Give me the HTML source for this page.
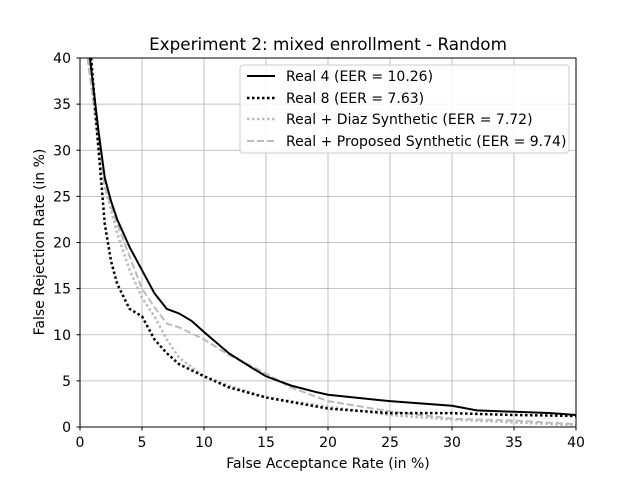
<!DOCTYPE html>
<html><head><meta charset="utf-8"><style>
body{margin:0;background:#fff;}
svg{display:block;font-family:"DejaVu Sans","Liberation Sans",sans-serif;}
</style></head><body>
<svg id="chart" width="640" height="480">
<rect width="640" height="480" fill="#fff"/>
<text x="328" y="50" font-size="16.8" text-anchor="middle">Experiment 2: mixed enrollment - Random</text>
<g id="grid"></g><g id="series"></g><g id="ticks"></g>
<rect x="80" y="58" width="496" height="369" fill="none" stroke="#000" stroke-width="1"/>
<text x="328" y="468" font-size="14" text-anchor="middle">False Acceptance Rate (in %)</text>
<text transform="translate(44,242) rotate(-90)" font-size="14" text-anchor="middle">False Rejection Rate (in %)</text>
<g>
<rect x="240" y="65" width="329" height="88" rx="3" fill="#fff" fill-opacity="0.85" stroke="#ccc"/>
<g><line x1="247" y1="76" x2="275" y2="76" stroke="#000" stroke-width="2"/><text x="286" y="81" font-size="14">Real 4 (EER = 10.26)</text></g>
<g><line x1="247" y1="98" x2="275" y2="98" stroke="#000" stroke-width="2.5" stroke-dasharray="2.5,2.5"/><text x="286" y="103" font-size="14">Real 8 (EER = 7.63)</text></g>
<g><line x1="247" y1="119" x2="275" y2="119" stroke="#bbb" stroke-width="2.5" stroke-dasharray="2.5,2.5"/><text x="286" y="124" font-size="14">Real + Diaz Synthetic (EER = 7.72)</text></g>
<g><line x1="247" y1="141" x2="275" y2="141" stroke="#bbb" stroke-width="2" stroke-dasharray="7,3"/><text x="286" y="146" font-size="14">Real + Proposed Synthetic (EER = 9.74)</text></g>
</g>
</svg>
<script>
const xTicks=[0,5,10,15,20,25,30,35,40];
const yTicks=[0,5,10,15,20,25,30,35,40];
const real4X=[0.8,1.5,2,2.5,3,4,5,6,7,8,9,10,12,14,15,17,19,20,25,30,32,38,40];
const real4Y=[40,32,27,24.5,22.5,19.5,17,14.5,12.8,12.3,11.5,10.3,8,6.3,5.5,4.5,3.8,3.5,2.8,2.3,1.8,1.5,1.3];
const real8X=[0.9,1.5,2,2.5,3,4,5,6,7,8,10,12,15,20,25,30,35,40];
const real8Y=[40,30,22,18,15.5,12.8,12,9.5,8,6.8,5.5,4.3,3.2,2,1.5,1.5,1.3,1.2];
const diazX=[0.7,1.5,2,3,4,5,6,7,8,10,12,15,20,25,30,35,40];
const diazY=[40,30,26,21,17,14,12,9.5,7.5,5.5,4.5,3.2,2.2,1.3,0.8,0.5,0.2];
const propX=[0.6,1.5,2,3,4,5,6,7,8,10,12,14,15,17,20,25,30,35,40];
const propY=[40,31,26,22,18.5,15,13,11.2,10.8,9.5,7.8,6.5,5.8,4.3,2.8,1.7,0.9,0.7,0.3];
const NS="http://www.w3.org/2000/svg";
const sx=v=>80+v*12.4, sy=v=>427-v*9.225;
const grid=document.getElementById('grid'),ticks=document.getElementById('ticks'),ser=document.getElementById('series');
function mk(t,a,p){const e=document.createElementNS(NS,t);for(const k in a)e.setAttribute(k,a[k]);p.appendChild(e);return e;}
xTicks.forEach(v=>{
 const g=mk('line',{x1:sx(v),x2:sx(v),y1:58,y2:427,stroke:'#b0b0b0','stroke-width':0.8},grid);
 
 
 mk('line',{x1:sx(v),x2:sx(v),y1:427,y2:430.5,stroke:'#000'},ticks);
 const t=mk('text',{x:sx(v),y:447,'font-size':14,'text-anchor':'middle'},ticks);t.textContent=v;
 
 
});
yTicks.forEach(v=>{
 const g=mk('line',{x1:80,x2:576,y1:sy(v),y2:sy(v),stroke:'#b0b0b0','stroke-width':0.8},grid);
 
 
 mk('line',{x1:76.5,x2:80,y1:sy(v),y2:sy(v),stroke:'#000'},ticks);
 const t=mk('text',{x:71,y:sy(v)+5,'font-size':14,'text-anchor':'end'},ticks);t.textContent=v;
 
 
});
function line(xs,ys,st,name){
 const pts=xs.map((x,i)=>sx(x)+','+sy(ys[i])).join(' ');
 const p=mk('polyline',Object.assign({points:pts,fill:'none'},st),ser);
 
 
}
line(propX,propY,{stroke:'#bbb','stroke-width':2,'stroke-dasharray':'7,3'},'series-proposed');
line(diazX,diazY,{stroke:'#bbb','stroke-width':2.5,'stroke-dasharray':'2.5,2.5'},'series-diaz');
line(real8X,real8Y,{stroke:'#000','stroke-width':2.5,'stroke-dasharray':'2.5,2.5'},'series-real8');
line(real4X,real4Y,{stroke:'#000','stroke-width':2},'series-real4');
</script>
</body></html>
